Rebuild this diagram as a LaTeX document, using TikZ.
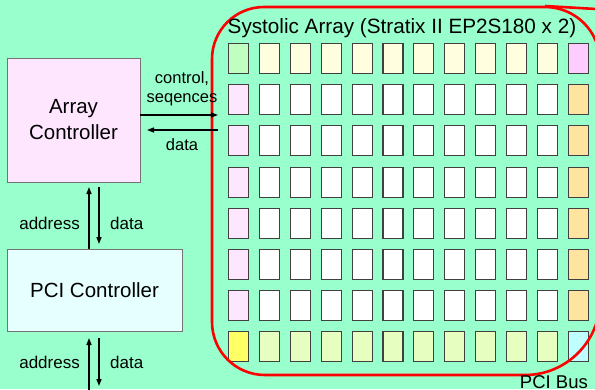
\documentclass[tikz,border=0pt]{standalone}
\usepackage{fontspec}
\setmainfont{Liberation Sans}
\usetikzlibrary{arrows.meta}
\definecolor{bg}{RGB}{153,255,204}
\definecolor{acfill}{RGB}{255,230,255}
\definecolor{pcifill}{RGB}{230,255,255}
\definecolor{cgreen}{RGB}{192,255,192}
\definecolor{cyel}{RGB}{255,255,224}
\definecolor{cpink}{RGB}{255,204,255}
\definecolor{clpink}{RGB}{255,230,255}
\definecolor{corange}{RGB}{255,228,160}
\definecolor{cyellow}{RGB}{255,255,102}
\definecolor{cygreen}{RGB}{230,255,192}
\definecolor{ccyan}{RGB}{192,255,255}
\definecolor{redline}{RGB}{255,0,0}
\tikzset{
  cellbox/.style={draw=black!75, line width=1.1pt, minimum width=20pt, minimum height=30pt, inner sep=0pt},
  ctrlbox/.style={draw=black!55, line width=0.9pt, inner sep=0pt, align=center, font=\fontsize{20.5}{26}\selectfont},
  lbl/.style={inner sep=0pt, font=\fontsize{16.5}{19}\selectfont},
  arr/.style={line width=1.3pt, -{Triangle[length=7pt,width=5pt]}},
  bord/.style={draw=redline, line width=2.6pt}
}
\begin{document}
\begin{tikzpicture}[x=1pt,y=-1pt]
\fill[bg] (0,0) rectangle (595,389);
\useasboundingbox (0,0) rectangle (595,389);
% cells
\foreach \i in {1,...,8}{
  \foreach \j in {1,...,12}{
    \pgfmathsetmacro{\cx}{238.5+(\j-1)*30.9}
    \pgfmathsetmacro{\cy}{58.5+(\i-1)*41.2}
    \ifnum\i=1
      \ifnum\j=1 \def\cc{cgreen}\else\ifnum\j=12 \def\cc{cpink}\else\def\cc{cyel}\fi\fi
    \else\ifnum\i=8
      \ifnum\j=1 \def\cc{cyellow}\else\ifnum\j=12 \def\cc{ccyan}\else\def\cc{cygreen}\fi\fi
    \else
      \ifnum\j=1 \def\cc{clpink}\else\ifnum\j=12 \def\cc{corange}\else\def\cc{white}\fi\fi
    \fi\fi
    \node[cellbox, fill=\cc] (c-\i-\j) at (\cx,\cy) {};
  }
}
% red border
\draw[bord] (212,59) .. controls (212,30.3) and (235.3,7) .. (264,7)
  -- (545,7) .. controls (575.4,7) and (600,31.6) .. (600,62)
  -- (600,300) .. controls (600,341.4) and (566.4,375) .. (525,375)
  -- (265,375) .. controls (235.7,375) and (212,351.3) .. (212,322) -- cycle;
\draw[bord] (545,6) -- (596,9);
% title
\node[inner sep=0pt, anchor=base west, font=\fontsize{20.7}{24}\selectfont] (title) at (227.5,33) {Systolic Array (Stratix II EP2S180 x 2)};
\node[inner sep=0pt, anchor=base east, font=\fontsize{18.5}{22}\selectfont] (pcibus) at (588,388) {PCI Bus};
% controllers
\node[ctrlbox, fill=acfill, minimum width=133pt, minimum height=124pt] (ac) at (73.5,120) {Array\\Controller};
\node[ctrlbox, fill=pcifill, minimum width=175pt, minimum height=82pt] (pci) at (94.5,290) {PCI Controller};
% horizontal arrows
\coordinate (ctrlend) at (218,115);
\coordinate (dataend) at (147,130);
\draw[arr] (ac.east |- ctrlend) -- (ctrlend);
\draw[arr] (ctrlend |- dataend) -- (dataend);
\node[lbl, anchor=base] (lc1) at (182,83) {control,};
\node[lbl, anchor=base] (lc2) at (182,102) {seqences};
\node[lbl, anchor=base] (ld) at (182,150) {data};
% vertical arrows between controllers
\coordinate (a1) at (89,187);
\coordinate (d1) at (99,187);
\coordinate (d1e) at (99,244);
\draw[arr] (pci.north -| a1) -- (a1);
\draw[arr] (d1) -- (d1e);
\node[lbl, anchor=east, font=\fontsize{17}{20}\selectfont] (la1) at (80,223) {address};
\node[lbl, anchor=west, font=\fontsize{17}{20}\selectfont] (lda1) at (110,223) {data};
% vertical arrows below pci
\coordinate (a2) at (89,338);
\coordinate (a2s) at (89,392);
\coordinate (d2) at (99,338);
\coordinate (d2e) at (99,386);
\draw[arr] (a2s) -- (a2);
\draw[arr] (d2) -- (d2e);
\node[lbl, anchor=east, font=\fontsize{17}{20}\selectfont] (la2) at (80,362) {address};
\node[lbl, anchor=west, font=\fontsize{17}{20}\selectfont] (lda2) at (110,362) {data};
\end{tikzpicture}
\end{document}
